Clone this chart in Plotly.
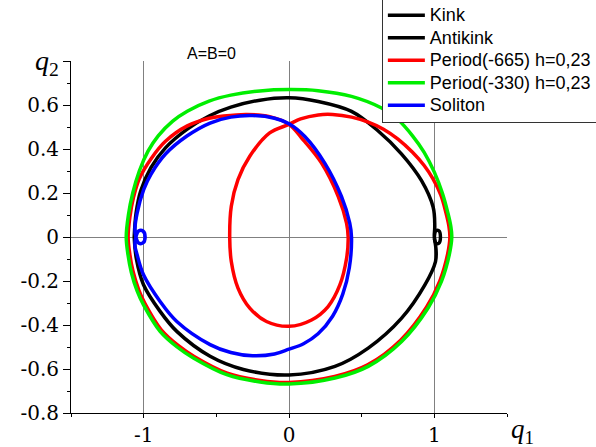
import plotly.graph_objects as go

# ---- data ----
kink_q1 = [-1.065, -1.052, -1.02, -0.95, -0.85, -0.7, -0.55, -0.4, -0.2, 0.0, 0.201, 0.43, 0.612, 0.775, 0.912, 0.992,
           1.003, 1.0, 1.01, 1.03, 1.042, 1.03, 1.01, 1.0]
kink_q2 = [0.0, 0.11, 0.21, 0.315, 0.405, 0.49, 0.55, 0.59, 0.622, 0.633, 0.616, 0.571, 0.483, 0.377, 0.256, 0.135,
           0.05, 0.0, -0.027, -0.029, 0.0, 0.029, 0.027, -0.005]

antikink_q1 = [1.0, 1.012, 1.008, 0.935, 0.775, 0.545, 0.316, 0.0, -0.314, -0.543, -0.772, -0.887, -1.001, -1.05, -1.065]
antikink_q2 = [-0.005, -0.06, -0.112, -0.218, -0.369, -0.505, -0.588, -0.627, -0.602, -0.542, -0.429, -0.338, -0.217, -0.1, 0.0]

period665_q1 = [0.0, -0.133, -0.29, -0.45, -0.55, -0.7, -0.85, -0.95, -1.03, -1.07, -1.095, -1.107,
                -1.095, -1.073, -1.034, -0.99, -0.879, -0.763, -0.653, -0.425, -0.198, 0.0, 0.314, 0.541, 0.768,
                0.947, 1.038, 1.091, 1.107,
                1.1, 1.08, 1.045, 0.99, 0.93, 0.85, 0.75, 0.65, 0.545, 0.431, 0.30, 0.201, 0.08, 0.0,
                -0.133, -0.27, -0.351, -0.397, -0.408, -0.397, -0.351, -0.27, -0.155, 0.0, 0.155, 0.269, 0.35,
                0.396, 0.407, 0.396, 0.339, 0.224, 0.087, 0.0]
period665_q2 = [0.512, 0.547, 0.557, 0.55, 0.54, 0.505, 0.435, 0.355, 0.265, 0.18, 0.09, 0.0,
                -0.079, -0.157, -0.24, -0.304, -0.422, -0.493, -0.543, -0.619, -0.652, -0.661, -0.634, -0.581, -0.469,
                -0.318, -0.199, -0.079, 0.0,
                0.05, 0.11, 0.19, 0.265, 0.325, 0.385, 0.445, 0.49, 0.522, 0.545, 0.557, 0.555, 0.537, 0.512,
                0.473, 0.367, 0.261, 0.14, 0.0, -0.111, -0.232, -0.323, -0.384, -0.406, -0.377, -0.316, -0.218,
                -0.098, 0.0, 0.063, 0.184, 0.336, 0.45, 0.512]

period330_q1 = [0.0, -0.2, -0.4, -0.55, -0.7, -0.8, -0.9, -0.97, -1.03, -1.075, -1.105, -1.12,
                -1.108, -1.085, -1.045, -1.0, -0.887, -0.77, -0.658, -0.428, -0.199, 0.0, 0.316, 0.545, 0.775, 0.957,
                1.049, 1.103, 1.12,
                1.113, 1.093, 1.055, 1.0, 0.93, 0.85, 0.751, 0.637, 0.43, 0.2, 0.0]
period330_q2 = [0.670, 0.664, 0.645, 0.618, 0.572, 0.527, 0.46, 0.39, 0.30, 0.2, 0.1, 0.0,
                -0.08, -0.16, -0.245, -0.31, -0.429, -0.5, -0.55, -0.626, -0.659, -0.668, -0.641, -0.588, -0.475, -0.323,
                -0.202, -0.08, 0.0,
                0.05, 0.11, 0.2, 0.295, 0.385, 0.46, 0.533, 0.586, 0.639, 0.665, 0.670]

soliton_q1 = [0.0, -0.1, -0.25, -0.4, -0.543, -0.7, -0.85, -0.95, -1.0, -1.045, -1.06, -1.055, -1.035, -1.005, -0.99,
              -1.005, -1.035, -1.055, -1.06, -1.045, -1.001, -0.887, -0.772, -0.543, -0.4, -0.25, -0.1, 0.0, 0.1,
              0.2, 0.3, 0.37, 0.415, 0.43, 0.418, 0.361, 0.246, 0.109, 0.0]
soliton_q2 = [0.515, 0.54, 0.552, 0.545, 0.518, 0.46, 0.377, 0.285, 0.215, 0.109, 0.04, 0.005, -0.027, -0.027, 0.0,
              0.027, 0.027, -0.005, -0.04, -0.081, -0.172, -0.293, -0.384, -0.489, -0.525, -0.54, -0.532, -0.51, -0.485,
              -0.44, -0.36, -0.26, -0.14, 0.0, 0.063, 0.184, 0.336, 0.457, 0.515]

series = [
    ("Kink", kink_q1, kink_q2, "#000000"),
    ("Antikink", antikink_q1, antikink_q2, "#000000"),
    ("Period(-665) h=0,23", period665_q1, period665_q2, "#ff0000"),
    ("Period(-330) h=0,23", period330_q1, period330_q2, "#00ee00"),
    ("Soliton", soliton_q1, soliton_q2, "#0000ff"),
]

x_ticks = [-1, 0, 1]
x_ticktext = ["-1", "0", "1"]
y_ticks = [-0.8, -0.6, -0.4, -0.2, 0, 0.2, 0.4, 0.6, 0.8]
y_ticktext = ["-0.8", "-0.6", "-0.4", "-0.2", "0", "0.2", "0.4", "0.6", ""]

fig = go.Figure()
for name, xs, ys, col in series:
    fig.add_trace(go.Scatter(x=xs, y=ys, mode="lines",
                             name="<span style='font-size:18px'>" + name + "</span>",
                             line=dict(color=col, width=3.5, shape="spline", smoothing=1.0)))

serif = "DejaVu Serif"
fig.update_layout(
    width=596, height=447,
    margin=dict(l=71, r=89, t=61, b=34, autoexpand=False),
    paper_bgcolor="white", plot_bgcolor="white",
    showlegend=True,
    legend=dict(x=0.713, y=1.179, xanchor="left", yanchor="top", itemwidth=37,
                bgcolor="white", bordercolor="#333333", borderwidth=1,
                font=dict(family="Liberation Sans, Arial", size=15, color="black"),
                tracegroupgap=0),
    annotations=[
        dict(text="A=B=0", xref="paper", yref="paper", x=0.322, y=1.02, showarrow=False,
             font=dict(family="Liberation Sans, Arial", size=16, color="black"), xanchor="center", yanchor="middle"),
        dict(text="<i>q</i><sub>2</sub>", xref="paper", yref="paper", x=-0.055, y=0.997, showarrow=False,
             font=dict(family="Liberation Serif", size=28, color="black"), xanchor="center", yanchor="middle"),
        dict(text="<i>q</i><sub>1</sub>", xref="paper", yref="paper", x=1.036, y=-0.05, showarrow=False,
             font=dict(family="Liberation Serif", size=27, color="black"), xanchor="center", yanchor="middle"),
    ],
)
fig.update_xaxes(range=[-1.5, 1.5], tickvals=x_ticks, ticktext=x_ticktext,
                 ticks="outside", ticklen=4, tickcolor="black", tickwidth=1,
                 showline=True, linecolor="black", linewidth=1,
                 showgrid=True, gridcolor="#808080", gridwidth=1, zeroline=False,
                 minor=dict(tickvals=[-1.5, -0.5, 0.5, 1.5], ticks="outside", ticklen=3, tickcolor="black", showgrid=False),
                 tickfont=dict(family=serif, size=20, color="black"))
fig.update_yaxes(range=[-0.8, 0.8], tickvals=y_ticks, ticktext=y_ticktext,
                 ticks="outside", ticklen=7, tickcolor="black", tickwidth=1,
                 showline=True, linecolor="black", linewidth=1,
                 showgrid=False, zeroline=True, zerolinecolor="#808080", zerolinewidth=1,
                 minor=dict(dtick=0.1, tick0=0, ticks="outside", ticklen=3, tickcolor="black", showgrid=False),
                 tickfont=dict(family=serif, size=20, color="black"))

fig.write_html("out.html", config={"displayModeBar": False},
               post_script="document.body.style.margin='0';document.body.style.padding='0';")
